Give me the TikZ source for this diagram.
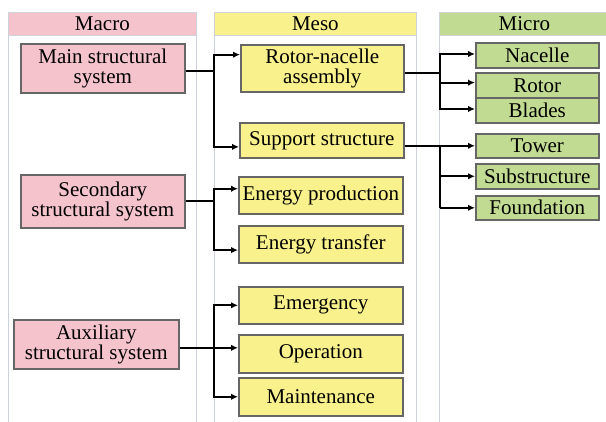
\documentclass[tikz,border=0pt]{standalone}
\usepackage{fontspec}
\setmainfont{Liberation Serif}
\usetikzlibrary{calc,arrows.meta,shadows}

\definecolor{macrofill}{HTML}{F4C3CC}
\definecolor{mesofill}{HTML}{F9F18C}
\definecolor{microfill}{HTML}{C2DB92}
\definecolor{boxedge}{HTML}{666666}
\definecolor{panelline}{HTML}{CDD1DA}

\tikzset{
  header/.style={draw=panelline, line width=0.8pt, minimum height=23pt,
    anchor=north west, inner sep=0pt, font=\fontsize{21}{21}\selectfont},
  block/.style={draw=boxedge, line width=1.6pt, anchor=north west, inner sep=0pt,
    align=center, font=\fontsize{21}{20.5}\selectfont,
    drop shadow={shadow xshift=1.2pt, shadow yshift=-1.5pt, opacity=0.4, fill=gray}},
  macrobox/.style={block, fill=macrofill},
  mesobox/.style={block, fill=mesofill},
  microbox/.style={block, fill=microfill},
  panel/.style={draw=panelline, line width=0.8pt},
  link/.style={draw=black, line width=1.8pt},
  arr/.style={link, -{Latex[length=7pt,width=6.5pt]}},
}

\begin{document}
\begin{tikzpicture}[x=1pt,y=-1pt]
  \useasboundingbox (0,0) rectangle (606,422);

  % column frames
  \draw[panel] (8,35) -- (8,422);
  \draw[panel] (196,35) -- (196,422);
  \draw[panel] (214,35) -- (214,422);
  \draw[panel] (416,35) -- (416,422);
  \draw[panel] (439,35) -- (439,422);

  % column headers
  \node[header, fill=macrofill, minimum width=188pt] (hmacro) at (8,12) {Macro};
  \node[header, fill=mesofill, minimum width=202pt] (hmeso) at (214,12) {Meso};
  \node[header, fill=microfill, minimum width=170pt] (hmicro) at (439,12) {Micro};

  % macro level
  \node[macrobox, minimum width=164pt, minimum height=49pt] (main) at (20,43)
    {Main structural\\system};
  \node[macrobox, minimum width=164pt, minimum height=53pt] (second) at (20,174)
    {Secondary\\structural system};
  \node[macrobox, minimum width=165pt, minimum height=49pt] (aux) at (13,319)
    {Auxiliary\\structural system};

  % meso level
  \node[mesobox, minimum width=163pt, minimum height=47pt] (rna) at (240,44)
    {Rotor-nacelle\\assembly};
  \node[mesobox, minimum width=164pt, minimum height=35pt] (support) at (239,122)
    {Support structure};
  \node[mesobox, minimum width=164pt, minimum height=37pt] (eprod) at (238,176)
    {Energy production};
  \node[mesobox, minimum width=164pt, minimum height=37pt] (etrans) at (238,225)
    {Energy transfer};
  \node[mesobox, minimum width=164pt, minimum height=37pt] (emerg) at (238,286)
    {Emergency};
  \node[mesobox, minimum width=164pt, minimum height=38pt] (oper) at (238,334)
    {Operation};
  \node[mesobox, minimum width=164pt, minimum height=38pt] (maint) at (238,377)
    {Maintenance};

  % micro level
  \node[microbox, minimum width=123pt, minimum height=25pt] (nacelle) at (475,42) {Nacelle};
  \node[microbox, minimum width=123pt, minimum height=25pt] (rotor) at (475,72) {Rotor};
  \node[microbox, minimum width=123pt, minimum height=25pt] (blades) at (475,97) {Blades};
  \node[microbox, minimum width=123pt, minimum height=24pt] (tower) at (475,133) {Tower};
  \node[microbox, minimum width=123pt, minimum height=25pt] (substr) at (475,163) {Substructure};
  \node[microbox, minimum width=123pt, minimum height=24pt] (found) at (475,195) {Foundation};

  % trunk lines
  \coordinate (mesotrunk) at (214,0);
  \coordinate (microtrunk) at (440,0);

  % main structural system -> meso
  \coordinate (mainout) at ($(main.north east)!0.55!(main.south east)$);
  \draw[link] (mainout) -- (mainout -| mesotrunk);
  \draw[arr] (mainout -| mesotrunk) |- ($(rna.north west)!0.22!(rna.south west)$);
  \draw[arr] (mainout -| mesotrunk) |- ($(support.north west)!0.68!(support.south west)$);

  % rotor-nacelle assembly -> micro
  \coordinate (rnaout) at ($(rna.north east)!0.6!(rna.south east)$);
  \draw[link] (rnaout) -- (rnaout -| microtrunk);
  \draw[arr] (rnaout -| microtrunk) |- ($(nacelle.north west)!0.45!(nacelle.south west)$);
  \draw[arr] (rnaout -| microtrunk) |- ($(rotor.north west)!0.4!(rotor.south west)$);
  \draw[arr] (rnaout -| microtrunk) |- ($(blades.north west)!0.45!(blades.south west)$);

  % support structure -> micro
  \draw[arr] (support.east |- tower.west) -- (tower.west);
  \draw[link] (microtrunk |- tower.west) -- (microtrunk |- found.west);
  \draw[arr] (microtrunk |- substr.west) -- (substr.west);
  \draw[arr] (microtrunk |- found.west) -- (found.west);

  % secondary structural system -> meso
  \draw[link] (second.east) -- (second.east -| mesotrunk);
  \draw[arr] (second.east -| mesotrunk) |- ($(eprod.north west)!0.33!(eprod.south west)$);
  \draw[arr] (second.east -| mesotrunk) |- ($(etrans.north west)!0.65!(etrans.south west)$);

  % auxiliary structural system -> meso
  \coordinate (auxout) at ($(aux.north east)!0.57!(aux.south east)$);
  \draw[arr] (auxout) -- (auxout -| oper.west);
  \draw[arr] (auxout -| mesotrunk) |- (emerg.west);
  \draw[arr] (auxout -| mesotrunk) |- (maint.west);
\end{tikzpicture}
\end{document}
